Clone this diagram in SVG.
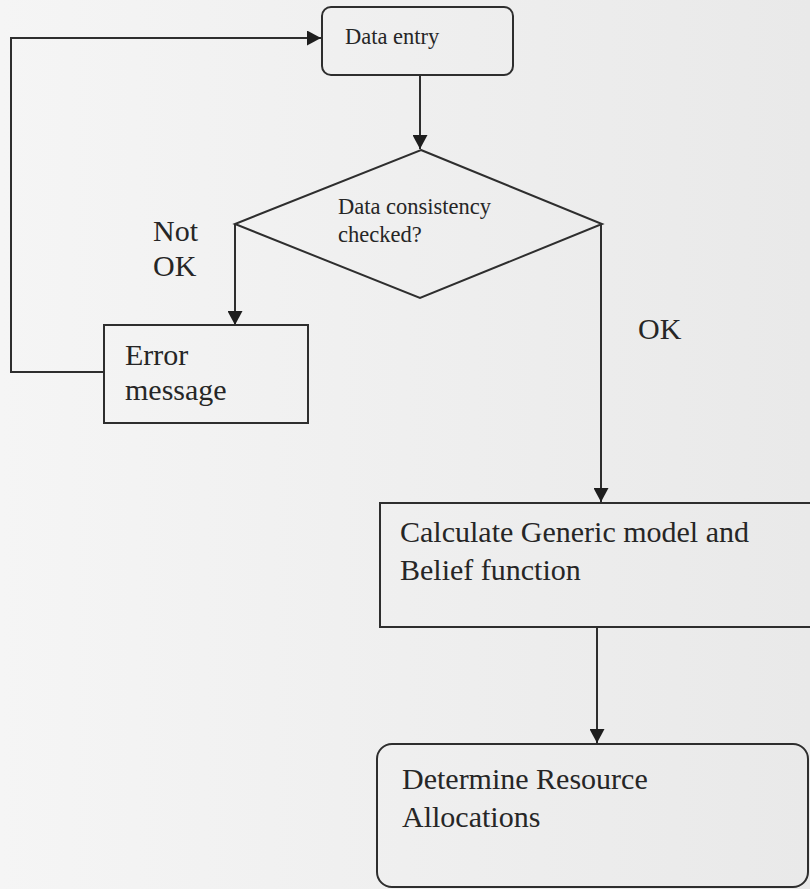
<svg xmlns="http://www.w3.org/2000/svg" width="810" height="889" viewBox="0 0 810 889">
<style>
.shape{fill:none;stroke:#2e2e2e;stroke-width:2}
.line{fill:none;stroke:#2e2e2e;stroke-width:2}
.t{font-family:"Liberation Serif","Times New Roman",serif;fill:#262626}
.s{font-size:22.5px}
.l{font-size:30px}
</style>
<defs>
<linearGradient id="bg" x1="0" y1="0" x2="1" y2="0">
<stop offset="0" stop-color="#f5f5f5"/>
<stop offset="1" stop-color="#e9e9e9"/>
</linearGradient>
<marker id="arr" viewBox="0 0 14 15" refX="14" refY="7.5" markerWidth="14" markerHeight="15" markerUnits="userSpaceOnUse" orient="auto">
<path d="M0,0 L14,7.5 L0,15 Z" fill="#1e1e1e"/>
</marker>
</defs>
<rect x="0" y="0" width="810" height="889" fill="url(#bg)"/>
<g id="connectors">
<polyline class="line" points="104,372 11,372 11,38 321,38" marker-end="url(#arr)"/>
<line class="line" x1="420" y1="75" x2="420" y2="149" marker-end="url(#arr)"/>
<polyline class="line" points="235,224 235,325" marker-end="url(#arr)"/>
<polyline class="line" points="601,224 601,502" marker-end="url(#arr)"/>
<line class="line" x1="597" y1="627" x2="597" y2="743" marker-end="url(#arr)"/>
</g>
<g id="data-entry">
<rect class="shape" x="322" y="7" width="191" height="68" rx="9"/>
<text class="t s" x="345" y="44">Data entry</text>
</g>
<g id="consistency-check">
<polygon class="shape" points="421,150 602,224 420,298 235,224"/>
<text class="t s" x="338" y="214">Data consistency</text>
<text class="t s" x="338" y="242">checked?</text>
</g>
<g id="label-not-ok">
<text class="t l" x="153" y="241">Not</text>
<text class="t l" x="153" y="276">OK</text>
</g>
<g id="label-ok">
<text class="t l" x="638" y="339">OK</text>
</g>
<g id="error-message">
<rect class="shape" x="104" y="325" width="204" height="98"/>
<text class="t l" x="125" y="365">Error</text>
<text class="t l" x="125" y="400">message</text>
</g>
<g id="calculate">
<rect class="shape" x="380" y="503" width="440" height="124"/>
<text class="t l" x="400" y="542">Calculate Generic model and</text>
<text class="t l" x="400" y="580">Belief function</text>
</g>
<g id="determine">
<rect class="shape" x="377" y="744" width="431" height="143" rx="15"/>
<text class="t l" x="402" y="789">Determine Resource</text>
<text class="t l" x="402" y="827">Allocations</text>
</g>
</svg>
